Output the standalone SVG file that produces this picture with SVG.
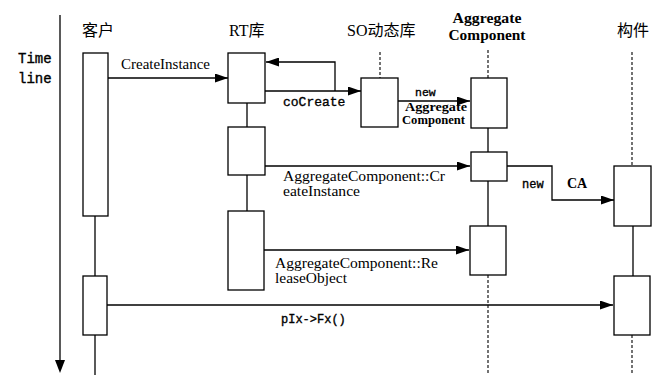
<svg xmlns="http://www.w3.org/2000/svg" width="655" height="375" viewBox="0 0 655 375">
<style>
.box{fill:#fff;stroke:#000;stroke-width:1.3}
.ln{fill:none;stroke:#000;stroke-width:1.3}
.dash{fill:none;stroke:#000;stroke-width:1.1;stroke-dasharray:3,2}
.arr{fill:none;stroke:#000;stroke-width:1.3;marker-end:url(#ah)}
.hd{font-family:"Liberation Serif","Noto Sans CJK SC",serif;font-size:16px;fill:#000}
.hdb{font-family:"Liberation Serif",serif;font-size:15px;font-weight:bold;fill:#000}
.lb{font-family:"Liberation Serif",serif;font-size:14px;fill:#000}
.lbb{font-family:"Liberation Serif",serif;font-size:12px;font-weight:bold;fill:#000}
.mono{font-family:"Liberation Mono",monospace;fill:#000;stroke:#000;stroke-width:0.35}
</style>
<defs>
<marker id="ah" markerWidth="13" markerHeight="9" refX="13" refY="4.5" orient="auto" markerUnits="userSpaceOnUse">
<path d="M0,0 L13,4.5 L0,9 Z" fill="#000"/>
</marker>
</defs>
<rect width="655" height="375" fill="#fff"/>
<g id="timeline">
<line x1="60" y1="15" x2="60" y2="362" class="ln"/>
<path d="M55,360 L65,360 L60,373 Z" fill="#000"/>
<text x="18" y="63" class="mono" font-size="14">Time</text>
<text x="18" y="83" class="mono" font-size="14">line</text>
</g>
<g id="client">
<text x="82" y="36" class="hd">客户</text>
<line x1="95" y1="216" x2="95" y2="276" class="ln"/>
<line x1="95" y1="335" x2="95" y2="375" class="ln"/>
<rect x="83" y="53" width="25" height="163" class="box"/>
<rect x="83" y="276" width="24" height="59" class="box"/>
</g>
<g id="rt">
<text x="229" y="36" class="hd">RT库</text>
<line x1="247" y1="103" x2="247" y2="211" class="ln"/>
<rect x="228" y="53" width="37" height="50" class="box"/>
<rect x="228" y="127" width="37" height="48" class="box"/>
<rect x="228" y="211" width="36" height="79" class="box"/>
</g>
<g id="so">
<text x="347" y="36" class="hd">SO动态库</text>
<line x1="380" y1="52" x2="380" y2="78" class="dash"/>
<rect x="361" y="78" width="37" height="49" class="box"/>
</g>
<g id="aggregate">
<text x="487" y="23" class="hdb" text-anchor="middle" textLength="69" lengthAdjust="spacingAndGlyphs">Aggregate</text>
<text x="487" y="40" class="hdb" text-anchor="middle" textLength="77" lengthAdjust="spacingAndGlyphs">Component</text>
<line x1="488" y1="50" x2="488" y2="78" class="dash"/>
<line x1="488" y1="128" x2="488" y2="226" class="ln"/>
<line x1="488" y1="275" x2="488" y2="375" class="dash"/>
<rect x="471" y="78" width="36" height="50" class="box"/>
<rect x="471" y="152" width="36" height="29" class="box"/>
<rect x="470" y="226" width="36" height="49" class="box"/>
</g>
<g id="component">
<text x="617" y="36" class="hd">构件</text>
<line x1="632" y1="52" x2="632" y2="166" class="dash"/>
<line x1="633" y1="226" x2="633" y2="276" class="ln"/>
<line x1="632" y1="335" x2="632" y2="375" class="dash"/>
<rect x="614" y="166" width="37" height="60" class="box"/>
<rect x="614" y="276" width="36" height="59" class="box"/>
</g>
<g id="connectors">
<line x1="108" y1="78" x2="228" y2="78" class="arr"/>
<text x="121" y="69" class="lb" font-size="15" textLength="89" lengthAdjust="spacingAndGlyphs">CreateInstance</text>
<line x1="265" y1="91" x2="361" y2="91" class="arr"/>
<path d="M335,91 V62 H266" class="arr"/>
<text x="283" y="106" class="mono" font-size="13">coCreate</text>
<line x1="398" y1="101" x2="470" y2="101" class="arr"/>
<text x="415" y="96" class="mono" font-size="11.5">new</text>
<text x="405" y="111" class="lbb" textLength="62" lengthAdjust="spacingAndGlyphs">Aggregate</text>
<text x="402" y="124" class="lbb" textLength="63" lengthAdjust="spacingAndGlyphs">Component</text>
<line x1="265" y1="166" x2="470" y2="166" class="arr"/>
<text x="283" y="181" class="lb" textLength="162" lengthAdjust="spacingAndGlyphs">AggregateComponent::Cr</text>
<text x="283" y="196" class="lb" textLength="77" lengthAdjust="spacingAndGlyphs">eateInstance</text>
<path d="M507,166 H552 V200 H614" class="arr"/>
<text x="522" y="188" class="mono" font-size="12">new</text>
<text x="567" y="188" class="lb" font-weight="bold" font-size="14">CA</text>
<line x1="264" y1="250" x2="469" y2="250" class="arr"/>
<text x="275" y="268" class="lb" textLength="163" lengthAdjust="spacingAndGlyphs">AggregateComponent::Re</text>
<text x="275" y="283" class="lb" textLength="72" lengthAdjust="spacingAndGlyphs">leaseObject</text>
<line x1="107" y1="305" x2="613" y2="305" class="arr"/>
<text x="281" y="323" class="mono" font-size="12">pIx-&gt;Fx()</text>
</g>
</svg>
